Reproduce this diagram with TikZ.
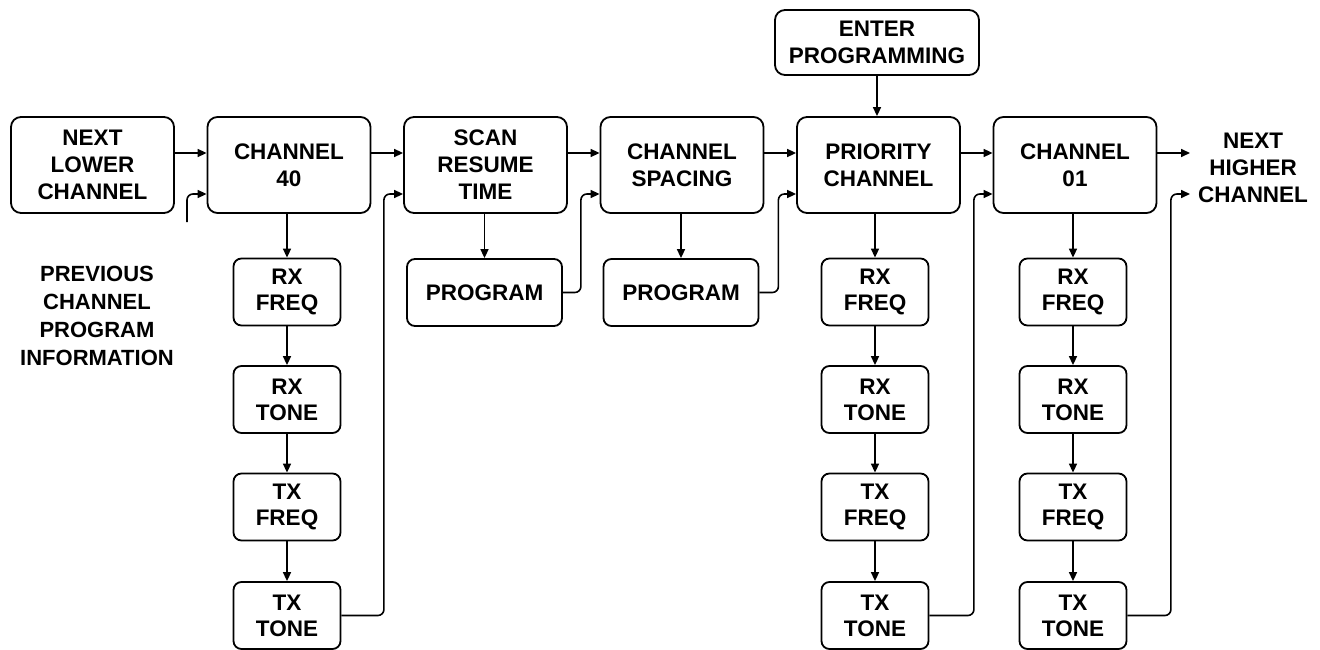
\documentclass[tikz,border=0pt]{standalone}
\usepackage{fontspec}
\setmainfont{Liberation Sans}
\usetikzlibrary{arrows.meta}
\tikzset{
  txt/.style={align=center, font=\bfseries\fontsize{22.5}{27}\selectfont, inner sep=0pt},
  boxbase/.style={txt, draw, line width=1.8pt},
  mainbox/.style={boxbase, rounded corners=10pt, minimum width=163pt, minimum height=96pt},
  subbox/.style={boxbase, rounded corners=8pt, minimum width=107pt, minimum height=67pt, font=\bfseries\fontsize{22.5}{26}\selectfont},
  progbox/.style={subbox, minimum width=155pt},
  enterbox/.style={boxbase, rounded corners=10pt, minimum width=204pt, minimum height=65pt},
  lbl/.style={txt},
  arr/.style={line width=1.6pt, -{Triangle[length=9pt,width=8pt]}},
  ret/.style={arr, rounded corners=6pt},
}
\begin{document}
\begin{tikzpicture}[x=1pt,y=-1pt]
\useasboundingbox (0,0) rectangle (1320,650);
% main row
\node[mainbox] (nl)   at (92.5,165)  {NEXT\\LOWER\\CHANNEL};
\node[mainbox] (c40)  at (289,165)   {CHANNEL\\40};
\node[mainbox] (scan) at (485.5,165) {SCAN\\RESUME\\TIME};
\node[mainbox] (cs)   at (682,165)   {CHANNEL\\SPACING};
\node[mainbox] (pri)  at (878.5,165) {PRIORITY\\CHANNEL};
\node[mainbox] (c01)  at (1075,165)  {CHANNEL\\01};
\node[enterbox] (enter) at (877,42.5) {ENTER\\PROGRAMMING};
\node[lbl] (nh) at (1253,168) {NEXT\\HIGHER\\CHANNEL};
\node[lbl, font=\bfseries\fontsize{22}{28}\selectfont] (prev) at (97,316) {PREVIOUS\\CHANNEL\\PROGRAM\\INFORMATION};
% channel 40 column
\node[subbox] (a1) at (287,292)   {RX\\FREQ};
\node[subbox] (a2) at (287,399.5) {RX\\TONE};
\node[subbox] (a3) at (287,507)   {TX\\FREQ};
\node[subbox] (a4) at (287,615.5) {TX\\TONE};
% program boxes
\node[progbox] (p1) at (484.5,292.5) {PROGRAM};
\node[progbox] (p2) at (681,292.5)   {PROGRAM};
% priority column
\node[subbox] (b1) at (875,292)   {RX\\FREQ};
\node[subbox] (b2) at (875,399.5) {RX\\TONE};
\node[subbox] (b3) at (875,507)   {TX\\FREQ};
\node[subbox] (b4) at (875,615.5) {TX\\TONE};
% channel 01 column
\node[subbox] (d1) at (1073,292)   {RX\\FREQ};
\node[subbox] (d2) at (1073,399.5) {RX\\TONE};
\node[subbox] (d3) at (1073,507)   {TX\\FREQ};
\node[subbox] (d4) at (1073,615.5) {TX\\TONE};
% free ends
\coordinate (lstub) at (187,222);
\coordinate (nhup) at (1190,153);
\coordinate (nhlo) at (1190,194);
% forward arrows
\draw[arr] ([yshift=12pt]nl.east) -- ([yshift=12pt]c40.west);
\draw[arr] ([yshift=12pt]c40.east) -- ([yshift=12pt]scan.west);
\draw[arr] ([yshift=12pt]scan.east) -- ([yshift=12pt]cs.west);
\draw[arr] ([yshift=12pt]cs.east) -- ([yshift=12pt]pri.west);
\draw[arr] ([yshift=12pt]pri.east) -- ([yshift=12pt]c01.west);
\draw[arr] ([yshift=12pt]c01.east) -- (nhup);
\draw[arr] (enter.south) -- (enter.south |- pri.north);
% downward arrows
\draw[arr] (c40.south -| a1.north) -- (a1.north);
\draw[arr] (a1) -- (a2);
\draw[arr] (a2) -- (a3);
\draw[arr] (a3) -- (a4);
\draw[arr] (scan.south -| p1.north) -- (p1.north);
\draw[arr] (cs.south -| p2.north) -- (p2.north);
\draw[arr] (pri.south -| b1.north) -- (b1.north);
\draw[arr] (b1) -- (b2);
\draw[arr] (b2) -- (b3);
\draw[arr] (b3) -- (b4);
\draw[arr] (c01.south -| d1.north) -- (d1.north);
\draw[arr] (d1) -- (d2);
\draw[arr] (d2) -- (d3);
\draw[arr] (d3) -- (d4);
% return arrows
\draw[ret] (lstub) |- ([yshift=-29pt]c40.west);
\draw[ret] (a4.east) -- ++(42.5,0) |- ([yshift=-29pt]scan.west);
\draw[ret] (p1.east) -- ++(18,0) |- ([yshift=-29pt]cs.west);
\draw[ret] (p2.east) -- ++(19,0) |- ([yshift=-29pt]pri.west);
\draw[ret] (b4.east) -- ++(44.5,0) |- ([yshift=-29pt]c01.west);
\draw[ret] (d4.east) -- ++(43.5,0) |- (nhlo);
\end{tikzpicture}
\end{document}
